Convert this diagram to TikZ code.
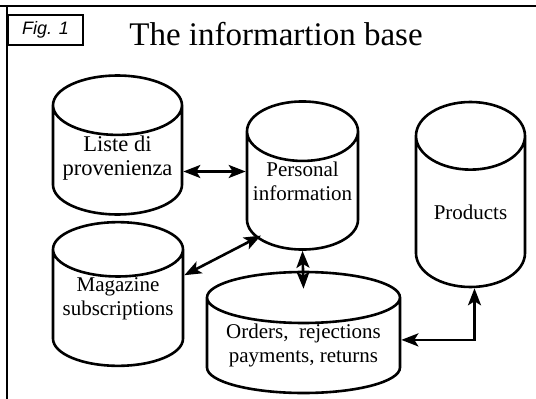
\documentclass[tikz,border=0pt]{standalone}
\usepackage{fontspec}
\setmainfont{Liberation Serif}
\setsansfont{Liberation Sans}
\usetikzlibrary{arrows.meta,shapes.geometric,calc}
\tikzset{
  >={Stealth[length=17pt,width=13pt,inset=4pt]},
  title/.style={font=\fontsize{33}{36}\selectfont},
  figtag/.style={
    rectangle, draw, line width=1.4pt, minimum width=75pt, minimum height=30pt,
    inner sep=0pt, font=\sffamily\itshape\fontsize{18}{20}\selectfont
  },
  db/.style={
    cylinder, shape border rotate=90, draw, line width=2.6pt, aspect=#1,
    align=center, inner sep=0pt, anchor=shape center,
    font=\fontsize{21}{24}\selectfont
  },
  db/.default=0.6,
  arrow/.style={<->, line width=2.6pt},
  frameline/.style={line width=2.8pt}
}

\begin{document}
\begin{tikzpicture}[x=1pt,y=-1pt]
\useasboundingbox (0,0) rectangle (536,399);
% frame and heading
\draw[frameline] (0,6) -- (536,6);
\draw[frameline] (7,6) -- (7,399);
\node[figtag] (fig) at (45.5,30) {Fig. 1};
\node[title, anchor=base] (head) at (276,45) {The informartion base};
% data stores
\node[db=0.54, minimum width=129pt, minimum height=124pt, text depth=9pt,
  font=\fontsize{22.5}{24}\selectfont] (liste) at (117.5,145) {Liste di\\provenienza};
\node[db=0.6, minimum width=111pt, minimum height=121pt, text depth=19pt] (pers) at (302.5,175.5) {Personal\\information};
\node[db=0.92, minimum width=109pt, minimum height=185pt] (prod) at (470.5,194.5) {Products};
\node[db=0.49, minimum width=130pt, minimum height=122pt, text depth=23pt] (mag) at (118,294) {Magazine\\subscriptions};
\node[db=0.33, minimum width=193pt, minimum height=121pt] (ord) at (303.5,332.5) {Orders,~ rejections\\payments, returns};
% links
\coordinate (ordin) at ($(ord.north)+(0,18)$);
\draw[arrow] ([yshift=-11pt]liste.east) -- ([yshift=-11pt]liste.east -| pers.west);
\draw[arrow] ([yshift=33pt]mag.east) -- ([xshift=5pt,yshift=2pt]pers.south west);
\draw[arrow] (pers.south) -- (ordin);
\draw[arrow] ([xshift=4pt]prod.south) |- ([yshift=6pt]ord.east);
\end{tikzpicture}
\end{document}
